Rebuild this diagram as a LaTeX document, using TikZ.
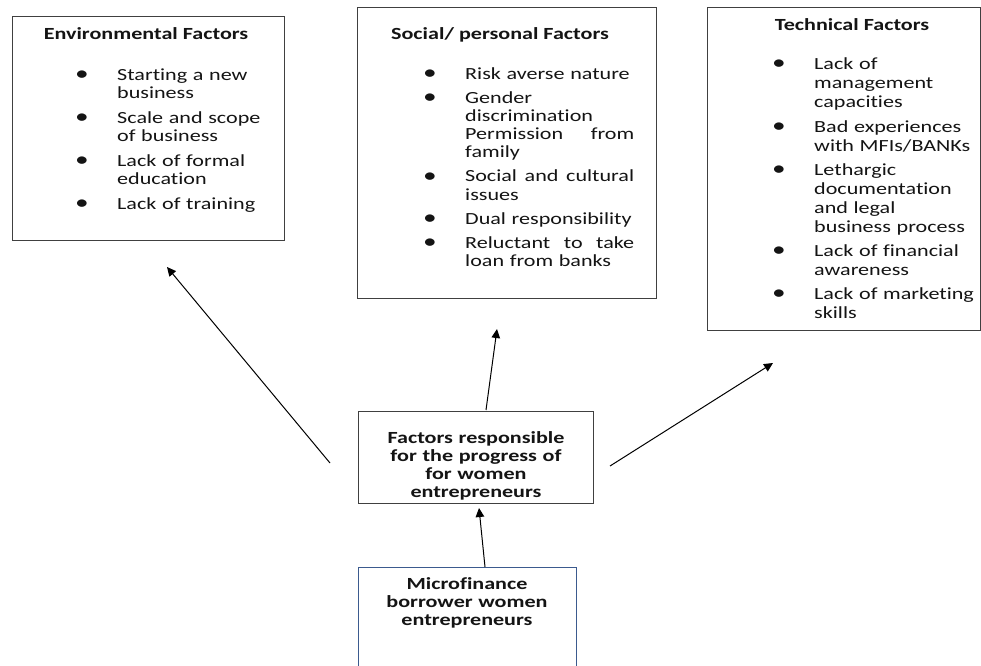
\documentclass[tikz,border=0pt]{standalone}
\usepackage{fontspec}
\setmainfont{Carlito}[FakeStretch=1.3, Ligatures=NoCommon]
\usetikzlibrary{arrows.meta}
\definecolor{edge}{HTML}{404040}
\definecolor{blueedge}{HTML}{3B5A8E}
\definecolor{ink}{HTML}{141414}
\newlength\bulw \setlength\bulw{42pt}
\newcommand\bl{\makebox[\bulw][l]{\raisebox{-0.5pt}{\fontsize{21}{18}\selectfont\textbullet}}}
\newcommand\nb{\hspace*{\bulw}}
\newcommand\jl[1]{\hbox to 169pt{#1}}
\tikzset{
  box/.style={draw=edge, line width=1.3pt, inner sep=0pt, anchor=north west},
  txt/.style={text=ink, inner sep=0pt, font=\fontsize{17}{18}\selectfont},
  head/.style={txt, font=\fontsize{17}{18}\selectfont\bfseries, anchor=base},
  items/.style={txt, anchor=base west, align=left, text width=260pt},
  arr/.style={draw=black, line width=1pt, -{Triangle[length=9pt,width=8.5pt]}}
}
\begin{document}
\begin{tikzpicture}[x=1pt,y=-1pt]
\useasboundingbox (0,0) rectangle (981,665);
\clip (0,0) rectangle (981,665);
\fill[white] (0,0) rectangle (981,665);

% Environmental
\node[box, minimum width=272pt, minimum height=224pt] (env) at (12,16) {};
\node[head] (envh) at (146,39) {Environmental Factors};
\node[items, font=\fontsize{17}{18}\selectfont] (envi) at (75,80) {%
\bl Starting a new\\ \nb business\\[7pt]
\bl Scale and scope\\ \nb of business\\[7pt]
\bl Lack of formal\\ \nb education\\[7pt]
\bl Lack of training};

% Social
\node[box, minimum width=299pt, minimum height=291pt] (soc) at (357,7) {};
\node[head] (soch) at (500,39) {Social/ personal Factors};
\node[items, font=\fontsize{17}{18.3}\selectfont] (soci) at (423,79) {%
\bl Risk averse nature\\[5.7pt]
\bl Gender\\ \nb discrimination\\ \nb \jl{Permission\hfill from}\\ \nb family\\[5.7pt]
\bl \jl{Social\hfill and\hfill cultural}\\ \nb issues\\[5.7pt]
\bl Dual responsibility\\[5.7pt]
\bl \jl{Reluctant\hfill to\hfill take}\\ \nb loan from banks};

% Technical
\node[box, minimum width=273pt, minimum height=323pt] (tec) at (707,7) {};
\node[head] (tech) at (852,30) {Technical Factors};
\node[items, font=\fontsize{17}{19}\selectfont] (teci) at (772,69) {%
\bl Lack of\\ \nb management\\ \nb capacities\\[6pt]
\bl Bad experiences\\ \nb with MFIs/BANKs\\[5pt]
\bl Lethargic\\ \nb documentation\\ \nb and legal\\ \nb business process\\[5pt]
\bl Lack of financial\\ \nb awareness\\[5pt]
\bl Lack of marketing\\ \nb skills};

% Centre
\node[box, minimum width=235pt, minimum height=92pt] (mid) at (358,411) {};
\node[head, text width=230pt, align=center] (midt) at (476,443) {Factors responsible\\for the progress of\\for women\\entrepreneurs};

% Bottom
\node[box, draw=blueedge, minimum width=218pt, minimum height=120pt] (bot) at (358,567) {};
\node[head, text width=210pt, align=center] (bott) at (467,589) {Microfinance\\borrower women\\entrepreneurs};

% Arrows
\coordinate (a1s) at (330,463); \coordinate (a1e) at (167,267);
\coordinate (a2s) at (486,410); \coordinate (a2e) at (497,329);
\coordinate (a3s) at (610,466); \coordinate (a3e) at (773,363);
\coordinate (a4s) at (485,567); \coordinate (a4e) at (479,508);
\draw[arr] (a1s) -- (a1e);
\draw[arr] (a2s) -- (a2e);
\draw[arr] (a3s) -- (a3e);
\draw[arr] (a4s) -- (a4e);
\end{tikzpicture}
\end{document}
